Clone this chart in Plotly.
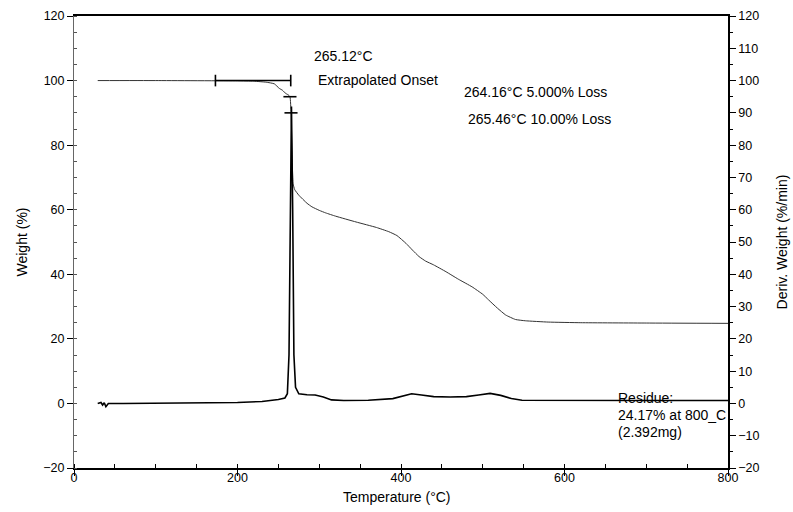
import plotly.graph_objects as go

# Weight curve (%), temperature in °C
weight_T = [29, 100, 200, 220, 235, 245, 251, 255, 259, 262, 264.2, 265.5, 266.5, 267.3, 268, 270, 275, 285,
            291, 300, 308, 320, 345, 370, 385, 395, 406, 414, 422, 430, 440, 455, 470, 487, 500, 507, 518,
            528, 540, 552, 580, 620, 700, 800]
weight_W = [100, 100, 99.9, 99.8, 99.5, 99.0, 97.6, 97.0, 96.0, 95.6, 95.0, 90.0, 80.0, 72.0, 68.0, 66.2,
            64.5, 62.0, 60.9, 59.8, 59.0, 58.0, 56.2, 54.5, 53.2, 52.0, 49.6, 47.5, 45.5, 44.1, 42.9, 40.8,
            38.5, 36.1, 33.8, 32.1, 29.5, 27.4, 26.0, 25.6, 25.2, 25.0, 24.9, 24.8]

# Derivative weight curve (%/min)
deriv_T = [29, 33, 35, 37, 39, 42, 60, 100, 150, 200, 230, 250, 258, 261, 263, 264.5, 266, 267.5, 269,
           271, 275, 285, 295, 305, 315, 330, 360, 390, 405, 413, 425, 440, 460, 480, 495, 509, 522, 535,
           548, 600, 700, 800]
deriv_D = [0, 0.3, -0.5, 0.2, -1.0, 0, 0, 0.05, 0.15, 0.3, 0.6, 1.2, 1.7, 3, 15, 60, 92, 60, 15,
           5, 3, 2.7, 2.6, 2.0, 1.1, 0.9, 1.0, 1.5, 2.6, 3.0, 2.6, 2.1, 2.0, 2.1, 2.6, 3.1, 2.5, 1.5,
           1.0, 0.9, 0.9, 0.9]

# Analysis markers
onset_start_T = 173
onset_T = 265.12
onset_W = 100
loss_T = [264.16, 265.46]
loss_W = [95.0, 90.0]
cross_half = 8
tick_half = 1.8

FONT = "Liberation Sans, Arial, sans-serif"

fig = go.Figure()

fig.add_trace(go.Scatter(x=weight_T, y=weight_W, mode="lines",
                         line=dict(color="#333333", width=1, shape="spline", smoothing=0.4),
                         showlegend=False, hoverinfo="skip"))
fig.add_trace(go.Scatter(x=deriv_T, y=deriv_D, mode="lines", yaxis="y2",
                         line=dict(color="#000000", width=1.6),
                         showlegend=False, hoverinfo="skip"))

# onset baseline and ticks
mx = [onset_start_T, onset_T, None,
      onset_start_T, onset_start_T, None,
      onset_T, onset_T, None]
my = [onset_W, onset_W, None,
      onset_W - tick_half, onset_W + tick_half, None,
      onset_W - tick_half, onset_W + tick_half, None]
for t, w in zip(loss_T, loss_W):
    mx += [t - cross_half, t + cross_half, None]
    my += [w, w, None]
fig.add_trace(go.Scatter(x=mx, y=my, mode="lines", line=dict(color="black", width=1.6),
                         showlegend=False, hoverinfo="skip"))

annots = [
    dict(x=291.5, y=107.7, text="265.12°C"),
    dict(x=296, y=100.2, text="Extrapolated Onset"),
    dict(x=474.5, y=96.5, text="264.16°C 5.000% Loss"),
    dict(x=479, y=88.1, text="265.46°C 10.00% Loss"),
    dict(x=663, y=1.7, text="Residue:"),
    dict(x=663, y=-3.5, text="24.17% at 800_C"),
    dict(x=663, y=-8.8, text="(2.392mg)"),
]
for a in annots:
    fig.add_annotation(x=a["x"], y=a["y"], text=a["text"], xref="x", yref="y",
                       xanchor="left", yanchor="middle", showarrow=False,
                       font=dict(family=FONT, size=14, color="black"))

# x-axis title
fig.add_annotation(x=0.494, y=-0.064, xref="paper", yref="paper", text="Temperature (°C)",
                   xanchor="center", yanchor="middle", showarrow=False,
                   font=dict(family=FONT, size=14, color="black"))

fig.update_layout(
    width=793, height=512,
    margin=dict(l=74, r=65, t=16, b=44),
    paper_bgcolor="white", plot_bgcolor="white",
    font=dict(family=FONT, size=13, color="black"),
    xaxis=dict(range=[0, 800], tick0=0, dtick=200, showgrid=False, zeroline=False,
               automargin=False,
               showline=True, linecolor="black", linewidth=1.6, mirror=True,
               ticks="outside", ticklen=6, tickcolor="black", ticklabelstandoff=-9,
               minor=dict(dtick=50, ticks="inside", ticklen=4, tickcolor="black"),
               tickfont=dict(size=12.5)),
    yaxis=dict(range=[-20, 120], tick0=0, dtick=20, showgrid=False, zeroline=False,
               automargin=False,
               showline=True, linecolor="#666666", linewidth=1,
               ticks="outside", ticklen=6, tickcolor="black",
               minor=dict(dtick=5, ticks="inside", ticklen=3, tickcolor="#555555"),
               title=dict(text="Weight (%)", standoff=12, font=dict(size=14)),
               tickfont=dict(size=12.5)),
    yaxis2=dict(range=[-20, 120], tick0=0, dtick=10, overlaying="y", side="right",
                automargin=False,
                showgrid=False, zeroline=False,
                showline=True, linecolor="black", linewidth=1.5,
                ticks="outside", ticklen=6, tickcolor="black",
                minor=dict(dtick=5, ticks="outside", ticklen=3, tickcolor="black"),
                title=dict(text="Deriv. Weight (%/min)", standoff=19, font=dict(size=14)),
                tickfont=dict(size=12.5)),
)

fig.write_html("out.html", config={"displayModeBar": False},
               post_script="document.body.style.margin='0';document.body.style.overflow='hidden';")
